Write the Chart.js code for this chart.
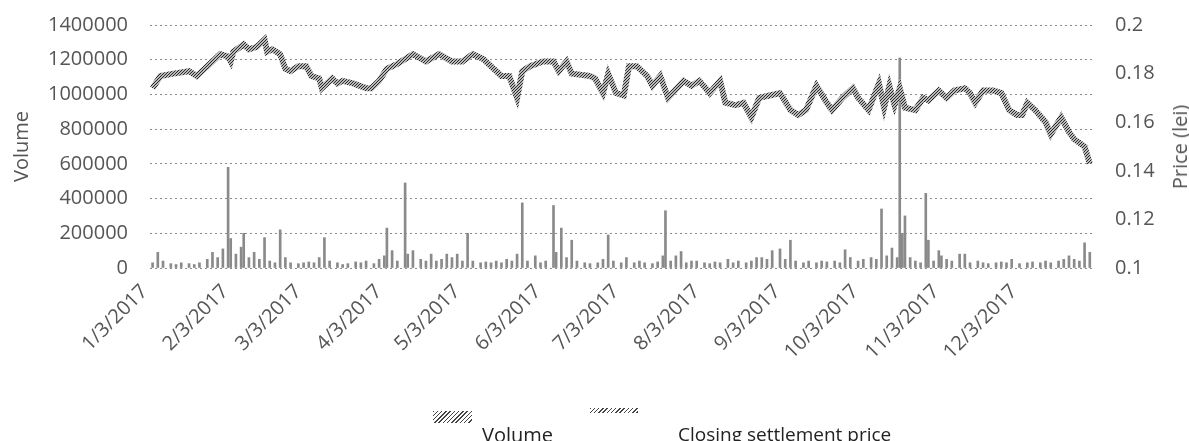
<!DOCTYPE html>
<html>
<head>
<meta charset="utf-8">
<title>Volume / Closing settlement price 2017</title>
<script src="https://cdn.jsdelivr.net/npm/chart.js@4.4.1/dist/chart.umd.min.js"></script>
<style>
  html, body { margin: 0; padding: 0; background: #fff; }
  #wrap { position: relative; width: 1189px; height: 441px; overflow: hidden; font-family: "Open Sans", sans-serif; }
  #chart { position: absolute; left: 0; top: 0; }
  .lg-box { position: absolute; }
  .lg-text { position: absolute; font-size: 20px; line-height: 1; color: #222; white-space: nowrap; }
  #rightTitle { position: absolute; font-size: 20px; line-height: 1; color: #555; white-space: nowrap;
    transform-origin: center center; transform: translate(-50%, -50%) rotate(-90deg); }
  .hatch { background: repeating-linear-gradient(135deg, #444 0 1px, #fff 1px 3px); }
</style>
</head>
<body>
<div id="wrap">
  <canvas id="chart" width="1189" height="441"></canvas>
  <div id="rightTitle" style="left:1180px; top:147px;">Price (lei)</div>
  <div class="lg-box hatch" style="left:433px; top:411px; width:39px; height:12px;"></div>
  <div class="lg-text" style="left:482px; top:425px;">Volume</div>
  <div class="lg-box hatch" style="left:590px; top:408px; width:48px; height:5px;"></div>
  <div class="lg-text" style="left:678px; top:425px; font-size:19px;">Closing settlement price</div>
</div>
<script>
// eje X: días desde 3/1/2017
const monthDays = [0, 31, 59, 90, 120, 151, 181, 212, 243, 273, 304, 334];
const monthLabels = ['1/3/2017', '2/3/2017', '3/3/2017', '4/3/2017', '5/3/2017', '6/3/2017',
  '7/3/2017', '8/3/2017', '9/3/2017', '10/3/2017', '11/3/2017', '12/3/2017'];

const volumeTicks = [0, 200000, 400000, 600000, 800000, 1000000, 1200000, 1400000];
const priceTicks = [0.1, 0.12, 0.14, 0.16, 0.18, 0.2];
const priceTickLabels = ['0.1', '0.12', '0.14', '0.16', '0.18', '0.2'];

// volumen diario (día, valor)
const volumeDays = [0, 2, 4, 7, 9, 11, 14, 16, 18, 21, 23, 25, 27, 29, 30, 32, 34, 35, 37, 39, 41, 43, 45, 47, 49,
  51, 53, 56, 58, 60, 62, 64, 66, 68, 71, 73, 75, 78, 80, 82, 85, 87, 89, 90, 92, 94, 97, 98, 100,
  103, 105, 107, 109, 111, 113, 115, 117, 119, 121, 123, 126, 128, 130, 132, 134, 136, 138, 140, 142,
  144, 147, 149, 151, 154, 155, 157, 159, 161, 163, 166, 168, 171, 173, 175, 177, 180, 182, 185, 187,
  189, 192, 194, 196, 197, 199, 201, 203, 205, 207, 209, 212, 214, 216, 218, 221, 223, 225, 228, 230,
  232, 234, 236, 238, 241, 243, 245, 247, 250, 252, 255, 257, 259, 262, 264, 266, 268, 271, 273, 276,
  278, 280, 282, 284, 286, 287, 288, 289, 291, 293, 295, 297, 298, 300, 302, 303, 305, 307, 310, 312,
  314, 317, 319, 321, 324, 326, 328, 330, 333, 336, 338, 341, 343, 345, 348, 350, 352, 354, 356, 358, 360];
const volumeValues = [30000, 90000, 40000, 25000, 20000, 30000, 25000, 20000, 30000, 50000, 90000, 60000, 110000,
  580000, 170000, 80000, 120000, 200000, 60000, 90000, 50000, 175000, 40000, 30000, 220000,
  60000, 30000, 25000, 30000, 35000, 30000, 60000, 175000, 40000, 30000, 20000, 25000, 35000, 30000,
  40000, 25000, 50000, 70000, 230000, 100000, 40000, 490000, 80000, 100000,
  50000, 40000, 80000, 40000, 50000, 80000, 60000, 80000, 40000, 200000, 40000, 30000, 35000, 30000,
  40000, 30000, 50000, 40000, 80000, 375000,
  40000, 70000, 30000, 40000, 360000, 90000, 230000, 60000, 160000, 40000, 30000, 25000, 30000, 50000,
  190000, 40000, 30000, 60000, 30000, 40000,
  30000, 25000, 35000, 70000, 330000, 40000, 70000, 95000, 30000, 40000, 40000, 30000, 25000, 35000,
  30000, 50000, 30000, 40000, 30000, 40000,
  60000, 60000, 50000, 100000, 110000, 50000, 160000, 40000, 30000, 40000, 30000, 40000, 35000, 40000,
  30000, 105000, 60000, 40000, 50000, 60000,
  50000, 340000, 70000, 115000, 60000, 1210000, 200000, 300000, 60000, 40000, 30000, 430000, 160000,
  40000, 100000, 70000, 50000, 40000, 80000, 80000,
  30000, 40000, 30000, 25000, 30000, 35000, 30000, 50000, 25000, 30000, 35000, 30000, 40000, 30000,
  40000, 50000, 70000, 50000, 40000, 145000, 90000];

// precio de cierre (día, lei)
const priceDays = [0, 3, 8, 14, 17, 19, 23, 26, 29, 30, 31, 35, 37, 40, 43, 44, 46, 49, 51, 53, 56, 59, 61, 64,
  65, 69, 71, 73, 77, 82, 84, 87, 90, 94, 100, 105, 110, 115, 119, 123, 127, 131, 134, 137, 140, 142,
  145, 150, 154, 156, 159, 161, 168, 170, 173, 175, 178, 181, 183, 186, 188, 190, 192, 195, 198, 204,
  207, 210, 214, 218, 220, 224, 227, 230, 233, 237, 241, 245, 248, 251, 255, 259, 261, 265, 269, 271,
  275, 279, 281, 283, 285, 287, 289, 293, 296, 298, 302, 305, 308, 312, 314, 316, 319, 323, 326, 329,
  332, 334, 336, 339, 343, 345, 349, 352, 354, 358, 360];
const priceValues = [0.174, 0.179, 0.180, 0.181, 0.179, 0.181, 0.185, 0.188, 0.187, 0.185, 0.189, 0.192, 0.190,
  0.191, 0.194, 0.189, 0.190, 0.188, 0.182, 0.181, 0.183, 0.183, 0.179, 0.178,
  0.174, 0.178, 0.176, 0.177, 0.176, 0.174, 0.174, 0.177, 0.182, 0.184, 0.188, 0.185, 0.188, 0.185,
  0.185, 0.188, 0.186, 0.182, 0.179, 0.179, 0.170, 0.181,
  0.183, 0.185, 0.185, 0.181, 0.185, 0.180, 0.179, 0.178, 0.172, 0.180, 0.172, 0.171, 0.183, 0.183,
  0.181, 0.179, 0.175, 0.179, 0.170, 0.177,
  0.175, 0.177, 0.172, 0.177, 0.168, 0.167, 0.168, 0.162, 0.170, 0.171, 0.172, 0.165, 0.163, 0.165,
  0.175, 0.168, 0.165, 0.170, 0.174, 0.170,
  0.165, 0.176, 0.166, 0.175, 0.167, 0.174, 0.166, 0.165, 0.170, 0.169, 0.173, 0.170, 0.173, 0.174,
  0.172, 0.168, 0.173, 0.173, 0.172, 0.165,
  0.163, 0.163, 0.168, 0.165, 0.160, 0.155, 0.162, 0.156, 0.153, 0.150, 0.143];

function hatchPattern(ctx, color, size) {
  const c = document.createElement('canvas');
  c.width = c.height = size;
  const g = c.getContext('2d');
  g.fillStyle = '#fff';
  g.fillRect(0, 0, size, size);
  g.strokeStyle = color;
  g.lineWidth = 1.2;
  g.beginPath();
  g.moveTo(0, size); g.lineTo(size, 0);
  g.moveTo(-1, 1); g.lineTo(1, -1);
  g.moveTo(size - 1, size + 1); g.lineTo(size + 1, size - 1);
  g.stroke();
  return ctx.createPattern(c, 'repeat');
}

// los ejes verticales no deben empujar el área del gráfico
function fixVertical(width) {
  return axis => {
    axis.width = width;
    axis.paddingTop = 0;
    axis.paddingBottom = 0;
  };
}

function renderChart() {
  const canvas = document.getElementById('chart');
  const ctx = canvas.getContext('2d');
  const tickFont = { family: 'Open Sans', size: 20 };

  new Chart(ctx, {
    type: 'bar',
    data: {
      datasets: [
        {
          type: 'line',
          label: 'Closing settlement price',
          data: priceDays.map((d, i) => ({ x: d, y: priceValues[i] })),
          yAxisID: 'y1',
          borderColor: hatchPattern(ctx, '#222', 3),
          borderWidth: 6,
          pointRadius: 0,
          tension: 0,
          order: 0
        },
        {
          label: 'Volume',
          data: volumeDays.map((d, i) => ({ x: d, y: volumeValues[i] })),
          yAxisID: 'y',
          backgroundColor: '#8a8a8a',
          barThickness: 2,
          order: 1
        }
      ]
    },
    options: {
      responsive: false,
      animation: false,
      layout: { padding: { top: 25, left: 0, right: 0, bottom: 0 } },
      plugins: { legend: { display: false }, tooltip: { enabled: false } },
      scales: {
        x: {
          type: 'linear', min: -1, max: 362, offset: false,
          grid: { display: false, drawTicks: false },
          border: { display: false },
          afterBuildTicks: axis => { axis.ticks = monthDays.map(v => ({ value: v })); },
          afterFit: axis => { axis.height = 441 - 268; },
          ticks: {
            autoSkip: false, minRotation: 45, maxRotation: 45, padding: 12, labelOffset: -8,
            color: '#555', font: { family: 'Open Sans', size: 20 },
            callback: v => { const i = monthDays.indexOf(v); return i >= 0 ? monthLabels[i] : ''; }
          }
        },
        y: {
          position: 'left', min: 0, max: 1400000,
          grid: { color: '#8c8c8c', lineWidth: 1, drawTicks: false },
          border: { display: false, dash: [2, 3] },
          afterBuildTicks: axis => { axis.ticks = volumeTicks.map(v => ({ value: v })); },
          afterFit: fixVertical(150),
          ticks: { padding: 22, color: '#555', font: tickFont, callback: v => String(v) },
          title: { display: true, text: 'Volume', color: '#555', font: { family: 'Open Sans', size: 20 }, padding: { top: 10, bottom: 0 } }
        },
        y1: {
          position: 'right', min: 0.1, max: 0.2,
          grid: { drawOnChartArea: false, drawTicks: false },
          border: { display: false },
          afterBuildTicks: axis => { axis.ticks = priceTicks.map(v => ({ value: v })); },
          afterFit: fixVertical(1189 - 1095),
          ticks: {
            padding: 20, color: '#555', font: tickFont,
            callback: v => { const i = priceTicks.findIndex(t => Math.abs(t - v) < 1e-9); return i >= 0 ? priceTickLabels[i] : ''; }
          }
        }
      }
    }
  });
}

document.addEventListener('DOMContentLoaded', renderChart);
</script>
</body>
</html>
